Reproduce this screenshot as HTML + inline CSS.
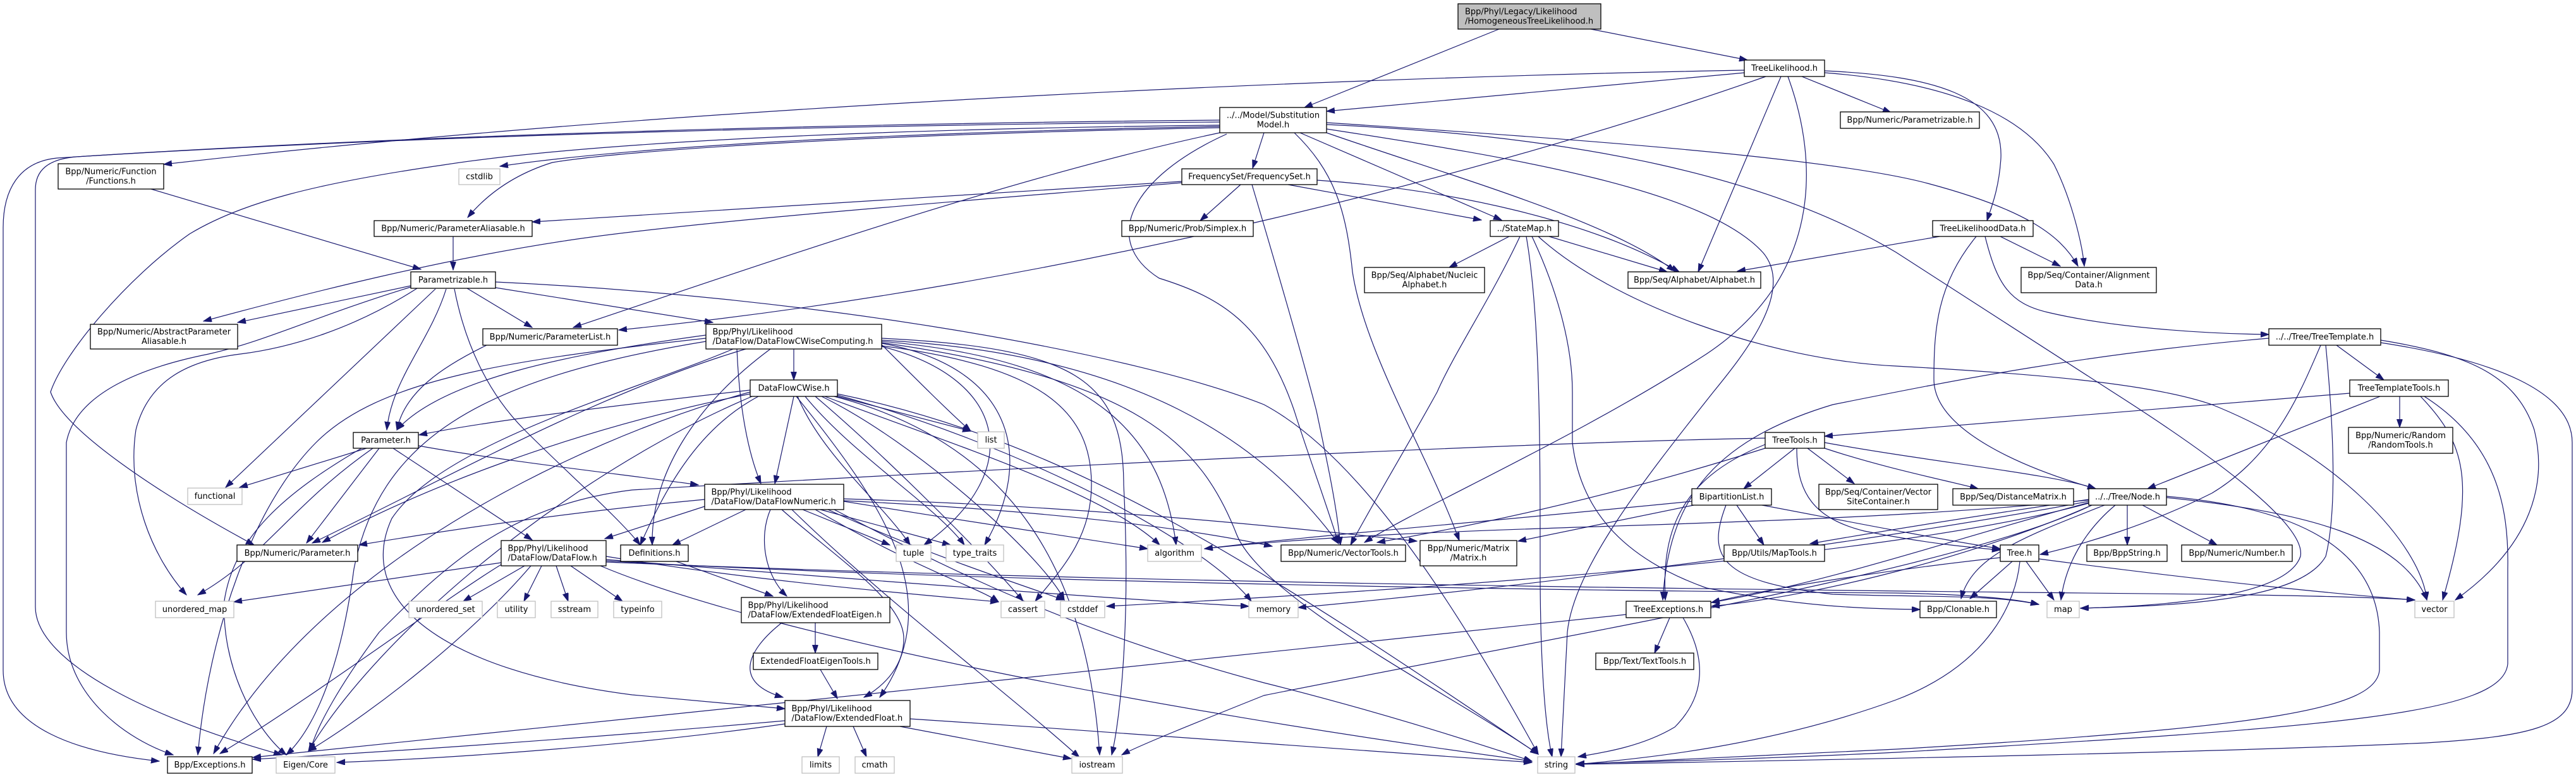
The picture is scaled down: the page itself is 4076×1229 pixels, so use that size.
<!DOCTYPE html>
<html><head><meta charset="utf-8"><title>HomogeneousTreeLikelihood.h include graph</title>
<style>
html,body{margin:0;padding:0;background:#fff;}
body{width:4076px;height:1229px;overflow:hidden;}
svg{display:block;}
text{font-family:"DejaVu Sans","Liberation Sans",sans-serif;font-size:13px;fill:#000;}
.n{fill:#fff;stroke:#000;stroke-width:1.3;}
.g{fill:#fff;stroke:#bfbfbf;stroke-width:1.3;}
.c{text-anchor:middle;}
</style></head>
<body>
<svg width="4076" height="1229" viewBox="0 0 4076 1229" xmlns="http://www.w3.org/2000/svg">
<defs>
<marker id="a" markerUnits="userSpaceOnUse" markerWidth="14" markerHeight="10" refX="13" refY="4.5" orient="auto">
<path d="M0,0 L13,4.5 L0,9 z" fill="#191970" stroke="#191970" stroke-width="1"/>
</marker>
</defs>
<rect width="4076" height="1229" fill="#fff"/>
<g fill="none" stroke="#191970" stroke-width="1.2" marker-end="url(#a)">
<!-- HTL -->
<path d="M2372,46 L2064,170"/>
<path d="M2517,46 L2765,95"/>
<!-- TreeLikelihood -->
<path d="M2761,111 C2000,125 1000,175 259,260"/>
<path d="M2761,115 L2099,176"/>
<path d="M2794,121 C2400,260 1700,450 979,522"/>
<path d="M2818,121 L2687,430"/>
<path d="M2829,121 C2880,260 2880,440 2700,560 C2500,690 2250,800 2159,858"/>
<path d="M2851,121 L2992,178"/>
<path d="M2887,112 C3060,120 3170,150 3166,250 C3163,300 3150,330 3144,349"/>
<path d="M2887,115 C3080,130 3200,180 3250,260 C3280,320 3295,390 3298,421"/>
<!-- SubstitutionModel -->
<path d="M1930,190 C1400,195 700,210 90,250 C30,256 5,300 5,360 L5,1060 C5,1150 120,1190 252,1204"/>
<path d="M1930,193 C1400,197 700,212 120,248 C75,252 56,270 56,300 L56,960 C56,1050 250,1140 446,1194"/>
<path d="M1930,198 C1300,205 900,230 701,261 C500,290 383,320 300,370 C200,440 100,560 80,620 C100,680 250,780 402,862"/>
<path d="M1930,200 C1400,210 1000,232 791,263"/>
<path d="M1930,202 C1400,212 1000,236 874,257 C800,280 760,320 740,344"/>
<path d="M1930,210 C1600,280 1200,420 907,518"/>
<path d="M1941,212 C1790,280 1740,380 1834,440 C1930,470 2000,510 2048,650 C2070,720 2100,800 2118,860"/>
<path d="M2048,210 C2110,270 2130,330 2140,430 C2160,560 2260,720 2309,855"/>
<path d="M2057,210 L2376,348"/>
<path d="M2099,210 C2300,280 2550,350 2650,429"/>
<path d="M2000,210 L1982,266"/>
<path d="M2099,194 C2500,220 2900,250 3050,290 C3200,330 3260,370 3288,421"/>
<path d="M2099,197 C2500,215 2800,280 3000,399 L3343,620 C3500,720 3650,830 3640,880 C3620,940 3450,958 3292,962"/>
<path d="M2099,204 C2400,250 2700,300 2790,400 C2840,460 2760,560 2711,620 C2600,760 2490,900 2480,1000 C2475,1100 2472,1150 2470,1197"/>
<!-- FrequencySet -->
<path d="M1870,287 C1500,310 1100,335 842,351"/>
<path d="M1870,289 C1500,320 1100,350 900,380 C700,410 500,460 322,508"/>
<path d="M1963,292 L1899,349"/>
<path d="M1981,292 C2013,400 2060,560 2083,650 C2100,730 2115,800 2121,862"/>
<path d="M2038,292 L2344,348"/>
<path d="M2084,285 C2300,300 2520,350 2657,430"/>
<!-- Functions / ParameterAliasable / Parametrizable -->
<path d="M239,299 L666,426"/>
<path d="M717,374 L717,427"/>
<path d="M650,452 L376,510"/>
<path d="M650,454 C500,500 420,540 330,560 C230,580 120,620 105,700 L105,1000 C105,1100 200,1170 274,1194"/>
<path d="M660,456 C560,520 460,550 380,560 C300,570 235,600 215,680 C200,780 240,880 295,941"/>
<path d="M689,457 L357,771"/>
<path d="M706,457 C680,540 620,600 612,680"/>
<path d="M719,457 C735,540 770,620 830,680 C900,750 980,820 1013,862"/>
<path d="M739,456 L842,518"/>
<path d="M784,455 L1128,510"/>
<path d="M784,446 C1300,470 1800,560 2000,640 C2150,720 2300,950 2434,1193"/>
<path d="M770,546 C700,580 640,620 628,680"/>
<!-- StateMap -->
<path d="M2388,374 L2293,423"/>
<path d="M2451,374 L2638,430"/>
<path d="M2405,374 C2360,470 2300,560 2274,620 C2230,700 2170,800 2137,862"/>
<path d="M2415,374 C2437,500 2437,700 2437,900 C2437,1050 2445,1150 2456,1197"/>
<path d="M2424,374 C2460,450 2488,540 2488,620 L2488,700 C2500,800 2560,880 2700,930 C2850,960 2950,963 3038,964"/>
<path d="M2434,374 C2550,480 2800,570 3000,579 C3200,590 3400,605 3500,640 C3700,720 3830,860 3840,949"/>
<!-- TreeLikelihoodData -->
<path d="M3069,374 L2749,429"/>
<path d="M3165,374 L3260,421"/>
<path d="M3127,374 C3065,450 3060,520 3060,600 C3060,680 3200,740 3316,773"/>
<path d="M3141,374 C3160,450 3180,480 3240,494 C3350,520 3500,528 3590,529"/>
<!-- TreeTemplate -->
<path d="M3697,546 L3772,601"/>
<path d="M3672,546 C3640,620 3600,720 3500,780 C3400,830 3300,860 3228,877"/>
<path d="M3680,546 C3690,650 3700,800 3680,880 C3640,950 3450,958 3292,962"/>
<path d="M3767,538 C3900,560 3980,590 4010,680 C4030,760 4010,860 3885,949"/>
<path d="M3767,542 C3950,570 4070,620 4070,700 L4070,1090 C4070,1150 4000,1165 3840,1175 C3500,1190 3000,1200 2494,1209"/>
<path d="M3590,535 C3300,560 3100,600 2900,640 C2700,700 2640,800 2631,949"/>
<!-- TreeTemplateTools -->
<path d="M3718,622 L2887,690"/>
<path d="M3766,627 L3398,773"/>
<path d="M3797,627 L3797,676"/>
<path d="M3830,627 C3900,700 3920,760 3865,949"/>
<path d="M3836,627 C3950,700 3970,800 3968,900 L3968,1050 C3960,1130 3700,1150 3000,1190 C2800,1200 2600,1205 2494,1208"/>
<!-- TreeTools -->
<path d="M2840,709 L2759,773"/>
<path d="M2860,709 L2934,765"/>
<path d="M2887,709 C2980,740 3080,760 3130,773"/>
<path d="M2887,700 C3050,730 3250,750 3316,773"/>
<path d="M2843,709 C2843,780 2870,820 2950,840 C3050,860 3120,866 3165,870"/>
<path d="M2793,709 C2600,770 2400,820 2179,858"/>
<path d="M2793,703 C2650,760 2630,850 2635,949"/>
<path d="M2793,693 C2400,700 1600,740 1000,775 C800,800 700,900 600,1000 C540,1080 500,1150 491,1188"/>
<!-- BipartitionList -->
<path d="M2677,793 C2300,830 2050,850 1906,868"/>
<path d="M2680,799 L2402,856"/>
<path d="M2748,799 L2791,862"/>
<path d="M2788,799 C2900,820 3050,850 3165,868"/>
<path d="M2731,799 C2700,880 2720,920 2900,940 C3050,945 3150,940 3226,956"/>
<!-- Node -->
<path d="M3305,790 C3100,820 2950,845 2864,860"/>
<path d="M3305,795 C3100,850 2900,920 2708,953"/>
<path d="M3310,799 C3150,870 2900,940 2708,959"/>
<path d="M3305,793 C3000,850 2500,920 2054,961"/>
<path d="M3305,796 C3000,880 2300,930 1751,959"/>
<path d="M3310,799 C3100,900 2500,1000 2000,1100 C1900,1140 1800,1180 1775,1194"/>
<path d="M3428,785 C3600,800 3760,850 3765,1000 L3765,1060 C3760,1120 3600,1150 3000,1185 C2800,1195 2600,1205 2494,1209"/>
<path d="M3428,787 C3650,810 3800,850 3840,949"/>
<path d="M3366,799 L3366,862"/>
<path d="M3390,799 L3508,862"/>
<path d="M3347,799 C3310,830 3270,880 3261,949"/>
<path d="M3330,799 C3200,850 3120,880 3103,947"/>
<path d="M3305,791 C2800,840 2300,825 1906,868"/>
<!-- Tree -->
<path d="M3184,888 L3117,947"/>
<path d="M3206,888 L3250,949"/>
<path d="M3226,884 C3500,920 3700,940 3821,949"/>
<path d="M3196,888 C3190,950 3150,1050 3000,1107 C2800,1180 2600,1200 2494,1209"/>
<path d="M3165,882 C3000,900 2800,930 2708,953"/>
<!-- TreeExceptions -->
<path d="M2642,977 L2618,1033"/>
<path d="M2663,977 C2700,1040 2700,1100 2650,1150 C2600,1180 2540,1190 2497,1197"/>
<path d="M2573,972 C2000,1030 1000,1140 400,1198"/>
<!-- ExtendedFloat -->
<path d="M1242,1140 C900,1170 600,1190 400,1201"/>
<path d="M1242,1145 C1000,1180 700,1200 533,1206"/>
<path d="M1308,1149 L1294,1197"/>
<path d="M1350,1149 L1371,1197"/>
<path d="M1424,1149 L1695,1200"/>
<path d="M1440,1137 C1800,1160 2200,1190 2424,1206"/>
<!-- EFE / EFET / Definitions -->
<path d="M1290,985 L1290,1033"/>
<path d="M1237,985 C1180,1030 1160,1080 1239,1103"/>
<path d="M1298,1059 L1325,1105"/>
<path d="M1070,888 L1223,943"/>
<!-- DataFlowNumeric -->
<path d="M1219,806 C1200,850 1210,910 1245,943"/>
<path d="M1180,806 L1064,862"/>
<path d="M1118,800 L957,852"/>
<path d="M1270,806 L1408,862"/>
<path d="M1298,806 L1504,862"/>
<path d="M1335,793 C1500,820 1700,850 1816,868"/>
<path d="M1335,789 C1700,800 2000,830 2242,856"/>
<path d="M1335,792 C1700,810 1900,840 2013,864"/>
<path d="M1237,806 C1320,880 1430,950 1430,1010 C1430,1060 1390,1090 1367,1103"/>
<path d="M1310,806 C1450,870 1600,920 1684,949"/>
<path d="M1253,806 C1400,950 1600,1100 1708,1198"/>
<path d="M1115,790 C900,810 700,840 568,862"/>
<path d="M1290,806 C1450,900 1550,930 1580,952"/>
<path d="M1320,806 C1500,900 1700,1000 2000,1080 C2200,1130 2350,1180 2424,1204"/>
<!-- DataFlow -->
<path d="M793,890 L370,952"/>
<path d="M830,895 L733,951"/>
<path d="M857,895 L829,951"/>
<path d="M880,895 L899,951"/>
<path d="M903,895 L985,951"/>
<path d="M793,893 C700,950 500,1100 348,1192"/>
<path d="M959,880 C1200,920 1450,940 1580,952"/>
<path d="M959,885 C1400,920 1800,950 1976,959"/>
<path d="M959,887 C1500,920 2500,935 3000,938 C3100,940 3180,945 3226,956"/>
<path d="M959,889 C1800,925 3000,935 3500,940 C3700,943 3780,946 3821,949"/>
<path d="M950,895 C1200,1000 1800,1120 2424,1204"/>
<path d="M840,895 C750,1000 600,1120 488,1188"/>
<!-- DataFlowCWise -->
<path d="M1256,627 L1226,765"/>
<path d="M1187,617 C900,650 750,670 663,688"/>
<path d="M1187,623 C900,680 650,780 510,858"/>
<path d="M1325,627 L1536,682"/>
<path d="M1262,627 C1300,720 1400,800 1440,862"/>
<path d="M1274,627 C1350,720 1480,800 1526,862"/>
<path d="M1305,627 C1500,700 1750,780 1835,862"/>
<path d="M1290,627 C1400,720 1560,880 1619,951"/>
<path d="M1300,627 C1450,700 1650,880 1684,949"/>
<path d="M1320,627 C1600,700 1720,900 1740,1194"/>
<path d="M1325,623 C1700,700 2000,900 2434,1193"/>
<path d="M1260,627 C1400,800 1500,950 1392,1103"/>
<path d="M1187,620 C900,700 500,900 338,1192"/>
<path d="M1190,627 C900,750 600,1000 488,1188"/>
<path d="M1325,625 C1600,700 1900,850 1980,951"/>
<path d="M1200,627 C1100,680 1050,780 1013,862"/>
<!-- DataFlowCWiseComputing -->
<path d="M1256,552 L1256,601"/>
<path d="M1117,530 C900,560 700,600 628,680"/>
<path d="M1180,552 C950,620 700,760 494,859"/>
<path d="M1219,552 C1100,640 1030,750 1032,862"/>
<path d="M1166,552 C1170,650 1185,720 1204,765"/>
<path d="M1395,545 C1450,600 1500,650 1536,682"/>
<path d="M1395,548 C1600,600 1620,750 1462,862"/>
<path d="M1395,543 C1600,580 1640,720 1558,862"/>
<path d="M1395,540 C1750,570 1840,700 1861,862"/>
<path d="M1395,547 C1650,580 1727,650 1727,767 C1727,850 1680,900 1638,951"/>
<path d="M1395,535 C1700,550 1778,600 1778,767 C1790,1000 1770,1150 1759,1194"/>
<path d="M1395,538 C1800,560 2000,700 2118,860"/>
<path d="M1395,542 C1800,600 1900,700 1957,846 C2000,950 2300,1100 2434,1193"/>
<path d="M1117,535 C800,570 600,600 500,700 C400,800 330,1000 313,1194"/>
<path d="M1117,540 C750,600 600,700 560,900 C540,1050 500,1150 453,1194"/>
<path d="M1160,552 C1000,620 700,700 620,820 C560,950 700,1060 1000,1099 L1242,1121"/>
<!-- Parameter.h -->
<path d="M580,709 L379,771"/>
<path d="M600,709 L485,859"/>
<path d="M590,709 C460,800 420,880 313,941"/>
<path d="M622,709 L842,854"/>
<path d="M662,705 C800,730 1000,752 1105,767"/>
<path d="M572,709 C450,780 370,850 355,950 C350,1050 400,1150 453,1194"/>
</g>

<!-- Nodes -->
<rect x="2307" y="6" width="226" height="40" fill="#bfbfbf" stroke="#000" stroke-width="1.3"/>
<text x="2318" y="22.7">Bpp/Phyl/Legacy/Likelihood</text>
<text x="2318" y="37.3">/HomogeneousTreeLikelihood.h</text>

<rect class="n" x="2760" y="95" width="127" height="26"/><text class="c" x="2823.5" y="112">TreeLikelihood.h</text>
<rect class="n" x="2912" y="177" width="220" height="26"/><text class="c" x="3022" y="194">Bpp/Numeric/Parametrizable.h</text>
<rect class="n" x="1930" y="170" width="169" height="40"/><text class="c" x="2014.5" y="186.7">../../Model/Substitution</text><text class="c" x="2014.5" y="201.3">Model.h</text>
<rect class="n" x="92" y="259" width="167" height="40"/><text class="c" x="175.5" y="275.7">Bpp/Numeric/Function</text><text class="c" x="175.5" y="290.3">/Functions.h</text>
<rect class="g" x="726" y="267" width="65" height="25"/><text class="c" x="758.5" y="283.5">cstdlib</text>
<rect class="n" x="1870" y="267" width="214" height="25"/><text class="c" x="1977" y="283.5">FrequencySet/FrequencySet.h</text>
<rect class="n" x="592" y="349" width="250" height="25"/><text class="c" x="717" y="365.5">Bpp/Numeric/ParameterAliasable.h</text>
<rect class="n" x="1775" y="349" width="208" height="25"/><text class="c" x="1879" y="365.5">Bpp/Numeric/Prob/Simplex.h</text>
<rect class="n" x="2358" y="349" width="108" height="25"/><text class="c" x="2412" y="365.5">../StateMap.h</text>
<rect class="n" x="3058" y="349" width="159" height="25"/><text class="c" x="3137.5" y="365.5">TreeLikelihoodData.h</text>
<rect class="n" x="650" y="430" width="134" height="26"/><text class="c" x="717" y="447">Parametrizable.h</text>
<rect class="n" x="2159" y="423" width="190" height="40"/><text class="c" x="2254" y="439.7">Bpp/Seq/Alphabet/Nucleic</text><text class="c" x="2254" y="454.3">Alphabet.h</text>
<rect class="n" x="2576" y="430" width="210" height="26"/><text class="c" x="2681" y="447">Bpp/Seq/Alphabet/Alphabet.h</text>
<rect class="n" x="3198" y="423" width="214" height="40"/><text class="c" x="3305" y="439.7">Bpp/Seq/Container/Alignment</text><text class="c" x="3305" y="454.3">Data.h</text>
<rect class="n" x="143" y="513" width="233" height="39"/><text class="c" x="259.5" y="529.2">Bpp/Numeric/AbstractParameter</text><text class="c" x="259.5" y="543.8">Aliasable.h</text>
<rect class="n" x="764" y="520" width="213" height="26"/><text class="c" x="870.5" y="537">Bpp/Numeric/ParameterList.h</text>
<rect class="n" x="1117" y="513" width="278" height="39"/><text x="1127.5" y="529.2">Bpp/Phyl/Likelihood</text><text x="1127.5" y="543.8">/DataFlow/DataFlowCWiseComputing.h</text>
<rect class="n" x="3590" y="520" width="177" height="26"/><text class="c" x="3678.5" y="537">../../Tree/TreeTemplate.h</text>
<rect class="n" x="1187" y="601" width="138" height="26"/><text class="c" x="1256" y="618">DataFlowCWise.h</text>
<rect class="n" x="3718" y="601" width="156" height="26"/><text class="c" x="3796" y="618">TreeTemplateTools.h</text>
<rect class="n" x="559" y="684" width="103" height="25"/><text class="c" x="610.5" y="700.5">Parameter.h</text>
<rect class="g" x="1547" y="683" width="42" height="26"/><text class="c" x="1568" y="700">list</text>
<rect class="n" x="2793" y="684" width="94" height="25"/><text class="c" x="2840" y="700.5">TreeTools.h</text>
<rect class="n" x="3716" y="676" width="165" height="41"/><text class="c" x="3798.5" y="693.2">Bpp/Numeric/Random</text><text class="c" x="3798.5" y="707.8">/RandomTools.h</text>
<rect class="g" x="297" y="772" width="86" height="26"/><text class="c" x="340" y="789">functional</text>
<rect class="n" x="1115" y="766" width="220" height="40"/><text x="1125.5" y="782.7">Bpp/Phyl/Likelihood</text><text x="1125.5" y="797.3">/DataFlow/DataFlowNumeric.h</text>
<rect class="n" x="2677" y="773" width="126" height="26"/><text class="c" x="2740" y="790">BipartitionList.h</text>
<rect class="n" x="2878" y="766" width="188" height="40"/><text class="c" x="2972" y="782.7">Bpp/Seq/Container/Vector</text><text class="c" x="2972" y="797.3">SiteContainer.h</text>
<rect class="n" x="3090" y="773" width="191" height="26"/><text class="c" x="3185.5" y="790">Bpp/Seq/DistanceMatrix.h</text>
<rect class="n" x="3305" y="773" width="123" height="26"/><text class="c" x="3366.5" y="790">../../Tree/Node.h</text>
<rect class="n" x="375" y="862" width="191" height="26"/><text class="c" x="470.5" y="879">Bpp/Numeric/Parameter.h</text>
<rect class="n" x="793" y="855" width="166" height="40"/><text x="803.5" y="871.7">Bpp/Phyl/Likelihood</text><text x="803.5" y="886.3">/DataFlow/DataFlow.h</text>
<rect class="n" x="982" y="862" width="107" height="26"/><text class="c" x="1035.5" y="879">Definitions.h</text>
<rect class="g" x="1418" y="862" width="55" height="26"/><text class="c" x="1445.5" y="879">tuple</text>
<rect class="g" x="1497" y="862" width="91" height="26"/><text class="c" x="1542.5" y="879">type_traits</text>
<rect class="g" x="1816" y="862" width="85" height="26"/><text class="c" x="1858.5" y="879">algorithm</text>
<rect class="n" x="2027" y="862" width="197" height="26"/><text class="c" x="2125.5" y="879">Bpp/Numeric/VectorTools.h</text>
<rect class="n" x="2247" y="855" width="153" height="40"/><text class="c" x="2323.5" y="871.7">Bpp/Numeric/Matrix</text><text class="c" x="2323.5" y="886.3">/Matrix.h</text>
<rect class="n" x="2728" y="862" width="159" height="26"/><text class="c" x="2807.5" y="879">Bpp/Utils/MapTools.h</text>
<rect class="n" x="3165" y="862" width="61" height="26"/><text class="c" x="3195.5" y="879">Tree.h</text>
<rect class="n" x="3302" y="862" width="127" height="26"/><text class="c" x="3365.5" y="879">Bpp/BppString.h</text>
<rect class="n" x="3452" y="862" width="175" height="26"/><text class="c" x="3539.5" y="879">Bpp/Numeric/Number.h</text>
<rect class="g" x="246" y="951" width="124" height="26"/><text class="c" x="308" y="968">unordered_map</text>
<rect class="g" x="647" y="951" width="116" height="26"/><text class="c" x="705" y="968">unordered_set</text>
<rect class="g" x="787" y="951" width="60" height="26"/><text class="c" x="817" y="968">utility</text>
<rect class="g" x="872" y="951" width="74" height="26"/><text class="c" x="909" y="968">sstream</text>
<rect class="g" x="971" y="951" width="76" height="26"/><text class="c" x="1009" y="968">typeinfo</text>
<rect class="n" x="1173" y="945" width="235" height="40"/><text x="1183.5" y="961.7">Bpp/Phyl/Likelihood</text><text x="1183.5" y="976.3">/DataFlow/ExtendedFloatEigen.h</text>
<rect class="g" x="1584" y="951" width="69" height="26"/><text class="c" x="1618.5" y="968">cassert</text>
<rect class="g" x="1678" y="951" width="70" height="26"/><text class="c" x="1713" y="968">cstddef</text>
<rect class="g" x="1976" y="951" width="78" height="26"/><text class="c" x="2015" y="968">memory</text>
<rect class="n" x="2573" y="951" width="134" height="26"/><text class="c" x="2640" y="968">TreeExceptions.h</text>
<rect class="n" x="3038" y="951" width="121" height="26"/><text class="c" x="3098.5" y="968">Bpp/Clonable.h</text>
<rect class="g" x="3239" y="951" width="51" height="26"/><text class="c" x="3264.5" y="968">map</text>
<rect class="g" x="3821" y="951" width="62" height="26"/><text class="c" x="3852" y="968">vector</text>
<rect class="n" x="1192" y="1033" width="197" height="26"/><text class="c" x="1290.5" y="1050">ExtendedFloatEigenTools.h</text>
<rect class="n" x="2525" y="1033" width="155" height="26"/><text class="c" x="2602.5" y="1050">Bpp/Text/TextTools.h</text>
<rect class="n" x="1242" y="1108" width="198" height="41"/><text x="1252.5" y="1125.2">Bpp/Phyl/Likelihood</text><text x="1252.5" y="1139.8">/DataFlow/ExtendedFloat.h</text>
<rect class="n" x="265" y="1197" width="134" height="26"/><text class="c" x="332" y="1214">Bpp/Exceptions.h</text>
<rect class="g" x="437" y="1197" width="93" height="26"/><text class="c" x="483.5" y="1214">Eigen/Core</text>
<rect class="g" x="1269" y="1197" width="59" height="26"/><text class="c" x="1298.5" y="1214">limits</text>
<rect class="g" x="1353" y="1197" width="62" height="26"/><text class="c" x="1384" y="1214">cmath</text>
<rect class="g" x="1696" y="1197" width="80" height="26"/><text class="c" x="1736" y="1214">iostream</text>
<rect class="g" x="2433" y="1197" width="59" height="26"/><text class="c" x="2462.5" y="1214">string</text>
</svg>
</body></html>
